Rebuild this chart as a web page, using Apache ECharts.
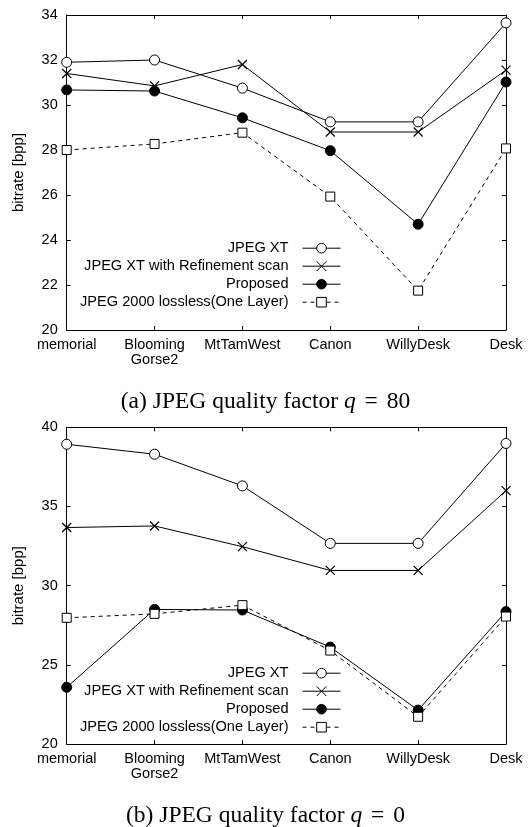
<!DOCTYPE html>
<html><head><meta charset="utf-8">
<script src="https://cdn.jsdelivr.net/npm/echarts@6/dist/echarts.min.js"></script>
<style>html,body{margin:0;padding:0;background:#fff}#c{width:531px;height:827px}</style>
</head><body><div id="c"></div>
<script>
const categories = ['memorial', 'Blooming\nGorse2', 'MtTamWest', 'Canon', 'WillyDesk', 'Desk'];
const seriesNames = ['JPEG XT', 'JPEG XT with Refinement scan', 'Proposed', 'JPEG 2000 lossless(One Layer)'];
// (a) q = 80
const q80JpegXT = [31.9, 32.0, 30.75, 29.25, 29.25, 33.65];
const q80Refine = [31.4, 30.85, 31.8, 28.8, 28.8, 31.55];
const q80Proposed = [30.67, 30.62, 29.43, 27.97, 24.7, 31.02];
const q80Jp2k = [28.0, 28.27, 28.77, 25.93, 21.75, 28.07];
// (b) q = 0
const q0JpegXT = [38.93, 38.3, 36.3, 32.67, 32.67, 38.98];
const q0Refine = [33.67, 33.77, 32.46, 30.96, 30.96, 36.0];
const q0Proposed = [23.58, 28.5, 28.46, 26.12, 22.14, 28.36];
const q0Jp2k = [27.97, 28.22, 28.77, 25.9, 21.72, 28.05];
const yTop = {min: 20, max: 34, interval: 2};
const yBottom = {min: 20, max: 40, interval: 5};
const captions = ['(a) JPEG quality factor {i|q} {e|=} 80', '(b) JPEG quality factor {i|q} {e|=} 0'];

const FONT = '"Liberation Sans", Arial, sans-serif';
const SERIF = '"Liberation Serif", "Times New Roman", serif';
const grids = [
  {left: 66.7, right: 25, top: 15, height: 315},
  {left: 66.7, right: 25, top: 427.3, height: 316.7}
];
const axLine = {show: true, lineStyle: {color: '#000', width: 1}};
const tick = {show: true, inside: true, length: 4, lineStyle: {color: '#000', width: 1}};
const xAxes = [], yAxes = [];
[yTop, yBottom].forEach((yr, g) => {
  xAxes.push({type: 'category', gridIndex: g, data: categories, boundaryGap: false, position: 'bottom',
    axisLine: axLine, axisTick: tick,
    axisLabel: {color: '#000', fontFamily: FONT, fontSize: 14.5, margin: 7, lineHeight: 15, interval: 0}});
  xAxes.push({type: 'category', gridIndex: g, data: categories, boundaryGap: false, position: 'top',
    axisLine: axLine, axisTick: tick, axisLabel: {show: false}});
  yAxes.push({type: 'value', gridIndex: g, min: yr.min, max: yr.max, interval: yr.interval, position: 'left',
    axisLine: axLine, axisTick: tick, splitLine: {show: false},
    name: 'bitrate [bpp]', nameLocation: 'middle', nameGap: 40.5,
    nameTextStyle: {color: '#000', fontFamily: FONT, fontSize: 15},
    axisLabel: {color: '#000', fontFamily: FONT, fontSize: 14.5, margin: 9}});
  yAxes.push({type: 'value', gridIndex: g, min: yr.min, max: yr.max, interval: yr.interval, position: 'right',
    axisLine: axLine, axisTick: tick, splitLine: {show: false}, axisLabel: {show: false}});
});

const styles = [
  {symbol: 'circle', symbolSize: 10, itemStyle: {color: '#fff', borderColor: '#000', borderWidth: 1}, lineStyle: {color: '#000', width: 1}},
  {symbol: 'path://M0,0L10,10M0,10L10,0', symbolSize: 9, itemStyle: {color: '#000', borderColor: '#000', borderWidth: 1.2}, lineStyle: {color: '#000', width: 1}},
  {symbol: 'circle', symbolSize: 10, itemStyle: {color: '#000', borderColor: '#000', borderWidth: 1}, lineStyle: {color: '#000', width: 1}},
  {symbol: 'rect', symbolSize: 9, itemStyle: {color: '#fff', borderColor: '#000', borderWidth: 1}, lineStyle: {color: '#000', width: 1, type: [4, 4]}}
];
const datasets = [[q80JpegXT, q80Refine, q80Proposed, q80Jp2k], [q0JpegXT, q0Refine, q0Proposed, q0Jp2k]];
const series = [];
datasets.forEach((ds, g) => {
  ds.forEach((vals, i) => {
    series.push(Object.assign({type: 'line', name: seriesNames[i], xAxisIndex: g * 2, yAxisIndex: g * 2,
      data: vals, showAllSymbol: true, silent: true, z: 2 + i}, styles[i]));
  });
});
const legends = [240.7, 665.7].map(t => ({
  orient: 'vertical', align: 'right', right: 190, top: t, padding: 0,
  itemWidth: 38, itemHeight: 12, itemGap: 3, selectedMode: false,
  data: seriesNames,
  lineStyle: {width: 1}, itemStyle: {borderWidth: 1},
  textStyle: {color: '#000', fontFamily: FONT, fontSize: 14.6, padding: [0, 9, 0, 0]}
}));
const titles = [401.5, 816].map((cy, k) => ({
  text: captions[k], left: 'center', top: cy - 12, padding: [0, 0, 0, 8],
  textStyle: {color: '#000', fontFamily: SERIF, fontSize: 23.5, fontWeight: 'normal',
    rich: {
      i: {fontFamily: SERIF, fontSize: 23.5, fontStyle: 'italic', color: '#000'},
      e: {fontFamily: SERIF, fontSize: 23.5, color: '#000', padding: [0, 3, 0, 3]}
    }}
}));

const chart = echarts.init(document.getElementById('c'), null, {renderer: 'canvas'});
chart.setOption({
  animation: false, backgroundColor: '#fff',
  title: titles, grid: grids, xAxis: xAxes, yAxis: yAxes, legend: legends, series: series
});
</script></body></html>
